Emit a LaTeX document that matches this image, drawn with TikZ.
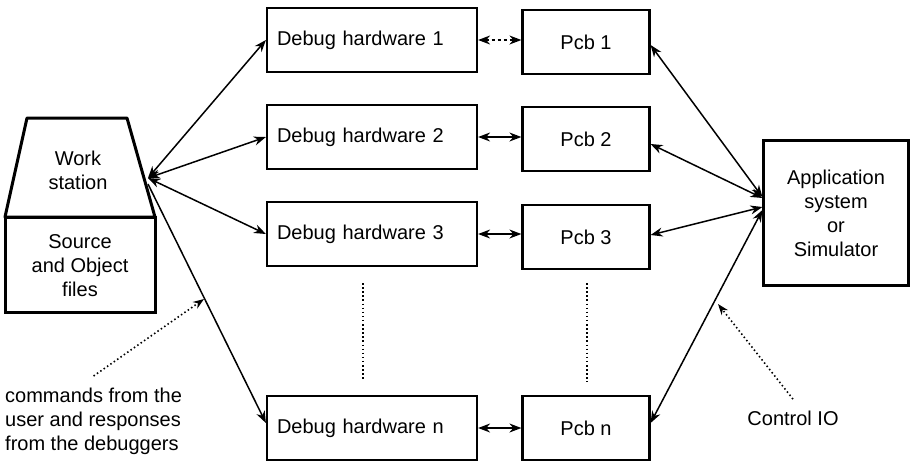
\documentclass[tikz,border=0pt]{standalone}
\usepackage{fontspec}
\setmainfont{Liberation Sans}
\usetikzlibrary{arrows.meta}

\begin{document}
\begin{tikzpicture}[x=1pt,y=-1pt,
  every node/.style={font=\fontsize{20}{24}\selectfont},
  dbgbox/.style={draw,line width=2.2pt,minimum width=210pt,minimum height=64pt,
    text width=190pt,inner xsep=10pt,align=left},
  pcbbox/.style={draw,line width=2.2pt,minimum width=127pt,minimum height=64pt},
  link/.style={line width=1.5pt,{Stealth[length=12pt,width=9pt]}-{Stealth[length=12pt,width=9pt]}},
  hint/.style={line width=1.6pt,dash pattern=on 1.5pt off 2.6pt,-{Stealth[length=11pt,width=8pt]}}]
  \useasboundingbox (0,0) rectangle (912,472);
  % 1. the work station with its files
  \draw[line width=3pt,line join=round] (27,118) -- (127,118) -- (155,217) -- (5,217) -- cycle;
  \draw[line width=3pt] (5,217) rectangle (155,312);
  \node[align=center] (ws) at (78,170) {Work\\station};
  \node[align=center] (files) at (80,266) {Source\\and Object\\files};
  \coordinate (wsport) at (148,178);
  % 2. debug hardware and pcb columns
  \node[dbgbox] (dh1) at (372,40) {Debug hardware 1};
  \node[dbgbox] (dh2) at (372,137) {Debug hardware 2};
  \node[dbgbox] (dh3) at (372,234) {Debug hardware 3};
  \node[dbgbox] (dhn) at (372,428) {Debug hardware n};
  \node[pcbbox] (pcb1) at (586,42) {Pcb 1};
  \node[pcbbox] (pcb2) at (586,139) {Pcb 2};
  \node[pcbbox] (pcb3) at (586,237) {Pcb 3};
  \node[pcbbox] (pcbn) at (586,428) {Pcb n};
  % the gap between 3 and n
  \draw[line width=1.6pt,dash pattern=on 1.5pt off 2.6pt] (363,283) -- (363,380);
  \draw[line width=1.6pt,dash pattern=on 1.5pt off 2.6pt] (587,283) -- (587,382);
  % 3. the target
  \node[draw,line width=2.2pt,minimum width=145pt,minimum height=145pt,align=center]
    (app) at (836,213) {Application\\system\\or\\Simulator};
  % 4. links from the work station
  \draw[link] (wsport) -- (dh1.west);
  \draw[link] (wsport) -- (dh2.west);
  \draw[link] (wsport) -- (dh3.west);
  \draw[line width=1.5pt,-{Stealth[length=12pt,width=9pt]}] ([yshift=-6pt]wsport) -- ([yshift=5pt]dhn.west);
  % links between hardware and pcb
  \draw[link,dashed] (dh1.east) -- (pcb1.west |- dh1.east);
  \draw[link] (dh2.east) -- (pcb2.west |- dh2.east);
  \draw[link] (dh3.east) -- (pcb3.west |- dh3.east);
  \draw[link] (dhn.east) -- (pcbn.west |- dhn.east);
  % links to the target
  \draw[link] ([yshift=-3pt]pcb1.east) -- ([yshift=16pt]app.west);
  \draw[link] ([yshift=-5pt]pcb2.east) -- ([yshift=15pt]app.west);
  \draw[link] ([yshift=2pt]pcb3.east) -- ([yshift=6pt]app.west);
  \draw[link] ([yshift=5pt]pcbn.east) -- ([yshift=3pt]app.west);
  % 5. notes
  \node[anchor=north west,inner sep=0pt,align=left] (cmds) at (5,388)
    {commands from the\\user and responses\\from the debuggers};
  \coordinate (cmdtip) at (204,299);
  \draw[hint] ([yshift=12pt]cmds.north) -- (cmdtip);
  \node (ctrl) at (793,418) {Control IO};
  \coordinate (ctrltip) at (718,304);
  \draw[hint] ([yshift=8pt]ctrl.north) -- (ctrltip);
\end{tikzpicture}
\end{document}
